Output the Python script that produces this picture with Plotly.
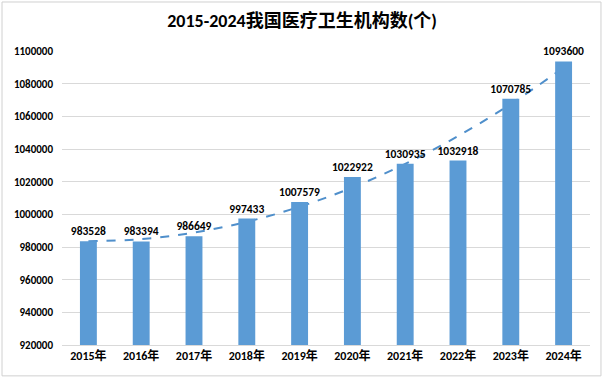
import numpy as np
import plotly.graph_objects as go

years = ["2015年", "2016年", "2017年", "2018年", "2019年", "2020年", "2021年", "2022年", "2023年", "2024年"]
counts = [983528, 983394, 986649, 997433, 1007579, 1022922, 1030935, 1032918, 1070785, 1093600]
y_ticks = [920000, 940000, 960000, 980000, 1000000, 1020000, 1040000, 1060000, 1080000, 1100000]

FONT = "Calibri, 'Liberation Sans', 'Noto Sans CJK SC', sans-serif"
BLUE = "#5B9BD5"
Y_RANGE = [920000, 1100000]

# polynomial trendline (order 2) fitted to the data, as in the source chart
xi = np.arange(1, len(counts) + 1)
trend = np.polyval(np.polyfit(xi, counts, 2), xi)

fig = go.Figure()
# trendline on the base axes (drawn underneath)
fig.add_trace(go.Scatter(
    x=years, y=trend, mode="lines", line=dict(color="#4F8FCB", width=2, dash="dash", shape="spline"),
    showlegend=False, hoverinfo="skip", xaxis="x", yaxis="y",
))
# bars on overlaying axes (drawn on top)
fig.add_trace(go.Bar(
    x=years, y=counts, marker_color=BLUE, marker_line_width=0,
    text=[str(v) for v in counts], textposition="outside", constraintext="none",
    textfont=dict(family=FONT, size=11.5, color="#000000"),
    texttemplate="<b>%{text}</b>", cliponaxis=False, showlegend=False,
    xaxis="x2", yaxis="y2",
))

fig.update_layout(
    width=604, height=379,
    margin=dict(l=62, r=14, t=51, b=34),
    paper_bgcolor="white", plot_bgcolor="white",
    bargap=0.68,
    title=dict(text="<b>2015-2024我国医疗卫生机构数(个)</b>", x=0.5, xanchor="center", y=0.945, yanchor="middle",
               font=dict(family=FONT, size=18, color="#000000")),
    font=dict(family=FONT, size=11, color="#000000"),
    xaxis=dict(showgrid=False, showline=True, linecolor="#d9d9d9", linewidth=1,
               tickvals=years, ticktext=[f"<b>{y}</b>" for y in years],
               tickfont=dict(family=FONT, size=12, color="#000000"), ticks=""),
    yaxis=dict(range=Y_RANGE, tickvals=y_ticks, ticktext=[f"<b>{v}</b>" for v in y_ticks],
               showgrid=True, gridcolor="#d9d9d9", gridwidth=1, zeroline=False,
               tickfont=dict(family=FONT, size=11, color="#000000"), ticklabelstandoff=8),
    xaxis2=dict(overlaying="x", matches="x", visible=False, showgrid=False),
    yaxis2=dict(overlaying="y", range=Y_RANGE, visible=False, showgrid=False, zeroline=False),
    shapes=[dict(type="rect", xref="paper", yref="paper", x0=-0.1136, x1=1.0208, y0=-0.105, y1=1.1667,
                 line=dict(color="#d0d0d0", width=1), layer="below")],
)

fig.write_html("out.html", config={"displayModeBar": False}, post_script="document.body.style.margin='0';")
